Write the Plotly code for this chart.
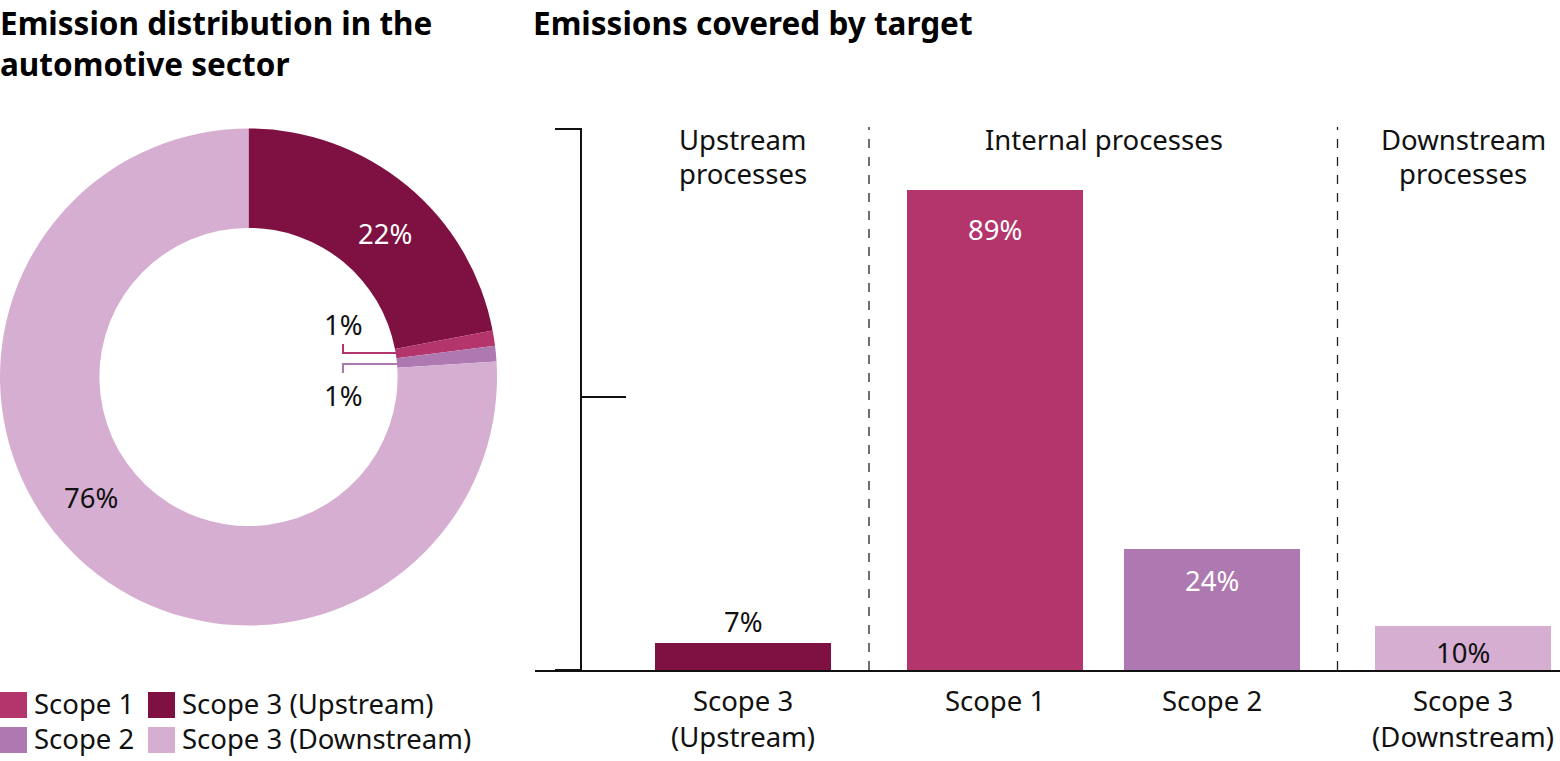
import plotly.graph_objects as go

# ---------------- data ----------------
pie_labels = ["Scope 3 (Upstream)", "Scope 1", "Scope 2", "Scope 3 (Downstream)"]
pie_values = [22, 1, 1, 76]
pie_text = ["22%", "1%", "1%", "76%"]

bar_categories = ["Scope 3<br>(Upstream)", "Scope 1", "Scope 2", "Scope 3<br>(Downstream)"]
bar_values = [7, 89, 24, 10]
bar_text = ["7%", "89%", "24%", "10%"]

group_labels = [["Upstream", "processes"], ["Internal processes"], ["Downstream", "processes"]]

legend_labels = ["Scope 1", "Scope 3 (Upstream)", "Scope 2", "Scope 3 (Downstream)"]

title_left = "Emission distribution in the<br>automotive sector"
title_right = "Emissions covered by target"

# ---------------- layout / style ----------------
W, H = 1560, 761
C_UP = "#7f1042"
C_S1 = "#b3356b"
C_S2 = "#ae78b0"
C_DN = "#d6aed1"
pie_colors = [C_UP, C_S1, C_S2, C_DN]
bar_colors = [C_UP, C_S1, C_S2, C_DN]
legend_colors = [C_S1, C_UP, C_S2, C_DN]
FONT = "Noto Sans"
TXT = "#111111"
FS = 27.5

bar_pos = [208, 460, 677, 928]   # x positions on the bar axis (pixel-like units)
bar_width = 176
group_centers = [bar_pos[0], (bar_pos[1] + bar_pos[2]) / 2, bar_pos[3]]
separators = [(bar_pos[0] + bar_pos[1]) / 2, (bar_pos[2] + bar_pos[3]) / 2]


def px(x):
    return x / W


def py(y):
    return (H - y) / H


fig = go.Figure()

fig.add_trace(go.Pie(
    labels=pie_labels, values=pie_values, hole=0.6, sort=False,
    direction="clockwise", rotation=0,
    marker=dict(colors=pie_colors, line=dict(width=0)),
    textinfo="none", showlegend=False,
    domain=dict(x=[px(0), px(497)], y=[py(626), py(128)]),
))

fig.add_trace(go.Bar(
    x=bar_pos, y=bar_values, width=bar_width,
    marker=dict(color=bar_colors, line=dict(width=0)),
    showlegend=False, xaxis="x", yaxis="y",
))

annotations = []
shapes = []

# titles
annotations.append(dict(text=f"<b>{title_left}</b>", x=px(-1), y=1, xref="paper", yref="paper",
                         xanchor="left", yanchor="top", showarrow=False, align="left",
                         borderpad=0, font=dict(size=31.5, family=FONT, color="#000")))
annotations.append(dict(text=f"<b>{title_right}</b>", x=px(532), y=1, xref="paper", yref="paper",
                         xanchor="left", yanchor="top", showarrow=False, align="left",
                         borderpad=0, font=dict(size=31.5, family=FONT, color="#000")))

# pie labels
pie_label_pos = [(385, 233, "white"), (343, 324, TXT), (343, 395, TXT), (91, 497, TXT)]
for t, (lx, ly, col) in zip(pie_text, pie_label_pos):
    annotations.append(dict(text=t, x=px(lx), y=py(ly), xref="paper", yref="paper",
                             xanchor="center", yanchor="middle", showarrow=False,
                             font=dict(size=FS, family=FONT, color=col)))

# leader lines for 1% labels
shapes.append(dict(type="path", path=f"M {px(343)},{py(344)} L {px(343)},{py(353)} L {px(398)},{py(353)}",
                   xref="paper", yref="paper", line=dict(color=C_S1, width=2)))
shapes.append(dict(type="path", path=f"M {px(343)},{py(373)} L {px(343)},{py(364)} L {px(398)},{py(364)}",
                   xref="paper", yref="paper", line=dict(color=C_S2, width=2)))

# bar value labels
bar_label_shift = [21, -39, -32, -26]
bar_label_col = [TXT, "white", "white", TXT]
for xv, yv, t, s, c in zip(bar_pos, bar_values, bar_text, bar_label_shift, bar_label_col):
    annotations.append(dict(text=t, x=xv, y=yv, xref="x", yref="y", yshift=s,
                             xanchor="center", yanchor="middle", showarrow=False,
                             font=dict(size=FS, family=FONT, color=c)))

# group headers
for lines, gx in zip(group_labels, group_centers):
    for j, ln in enumerate(lines):
        annotations.append(dict(text=ln, x=gx, y=py(140 + 33 * j), xref="x", yref="paper",
                                 xanchor="center", yanchor="middle", showarrow=False,
                                 font=dict(size=FS, family=FONT, color=TXT)))

# dashed separators
for sx in separators:
    shapes.append(dict(type="line", x0=sx, x1=sx, y0=py(670), y1=py(127), xref="x", yref="paper",
                       line=dict(color="#222", width=1.3, dash="dash")))

# bracket on the left
shapes.append(dict(type="path",
                   path=f"M {px(555)},{py(129)} L {px(581)},{py(129)} L {px(581)},{py(670)} L {px(555)},{py(670)}",
                   xref="paper", yref="paper", line=dict(color="#111", width=2)))
shapes.append(dict(type="line", x0=px(581), x1=px(626), y0=py(397), y1=py(397),
                   xref="paper", yref="paper", line=dict(color="#111", width=2)))

# custom legend
leg_pos = [(0, 705), (148, 705), (0, 740), (148, 740)]
for lab, col, (lx, ly) in zip(legend_labels, legend_colors, leg_pos):
    shapes.append(dict(type="rect", x0=px(lx), x1=px(lx + 27), y0=py(ly - 13), y1=py(ly + 13),
                       xref="paper", yref="paper", fillcolor=col, line=dict(width=0)))
    annotations.append(dict(text=lab, x=px(lx + 32), y=py(ly - 2), xref="paper", yref="paper",
                             xanchor="left", yanchor="middle", showarrow=False,
                             font=dict(size=FS, family=FONT, color=TXT)))

fig.update_layout(
    width=W, height=H,
    margin=dict(l=0, r=0, t=0, b=0),
    paper_bgcolor="white", plot_bgcolor="white",
    font=dict(family=FONT, color=TXT),
    xaxis=dict(domain=[px(535), 1], range=[0, 1025], tickvals=bar_pos, ticktext=bar_categories,
               tickfont=dict(size=FS, family=FONT, color=TXT), showgrid=False, zeroline=False,
               showline=True, linecolor="#111", linewidth=2, ticks="outside", ticklen=6,
               tickcolor="rgba(0,0,0,0)", fixedrange=True),
    yaxis=dict(domain=[py(670), py(129)], range=[2.08, 100.08], visible=False,
               showgrid=False, zeroline=False, fixedrange=True),
    annotations=annotations, shapes=shapes,
    bargap=0,
)

fig.write_html("out.html", config={"displayModeBar": False},
               post_script="document.body.style.margin='0px';document.body.style.overflow='hidden';")
